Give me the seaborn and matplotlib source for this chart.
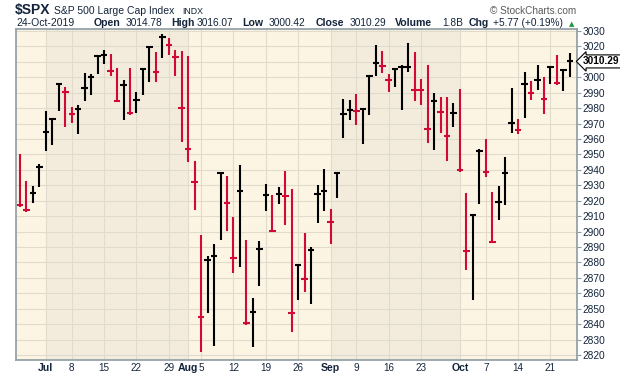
import numpy as np
import pandas as pd
import matplotlib
matplotlib.use("Agg")
import matplotlib.pyplot as plt
import seaborn as sns

# daily S&P 500 bars, 25-Jun-2019 .. 24-Oct-2019
dates = pd.bdate_range("2019-06-25", "2019-10-24")
dates = dates[~dates.isin(pd.to_datetime(["2019-07-04", "2019-09-02"]))]

high = [2950.46, 2932.59, 2929.26, 2943.98,
        2977.93, 2973.21, 2995.84, 2994.03, 2980.76, 2981.90, 3002.98, 3002.33, 3013.92, 3017.80, 3015.02,
        3005.90, 2998.28, 3006.02, 2990.71, 3005.90, 3019.59, 3016.31, 3027.98, 3025.61, 3017.40, 3017.19,
        3013.59, 2945.50, 2898.07, 2884.40, 2892.17, 2938.72, 2935.75, 2909.51, 2943.31, 2894.61, 2856.67,
        2893.63, 2931.00, 2923.63, 2928.73, 2939.08, 2927.73, 2879.27, 2898.79, 2890.03, 2930.50, 2940.43,
        2914.39, 2938.84, 2985.86, 2985.03, 2989.43, 2979.39, 3000.93, 3020.74, 3017.33, 3002.19, 3006.21,
        3007.83, 3021.99, 3016.37, 2999.15, 3007.98, 2989.82, 2987.28, 2987.31, 2983.50,
        2992.53, 2924.72, 2911.13, 2953.78, 2959.75, 2925.47, 2929.32, 2948.46, 2993.28, 2972.84, 3003.28,
        2997.54, 3008.29, 3000.00, 3007.33, 3014.57, 3004.78, 3016.07]
low = [2916.01, 2912.99, 2918.28, 2929.05,
       2952.22, 2955.92, 2977.96, 2967.97, 2970.09, 2963.44, 2984.62, 2988.80, 3001.87, 3008.77, 3001.15,
       2984.42, 2972.60, 2975.86, 2976.65, 2988.56, 2996.82, 2997.24, 3012.59, 3014.30, 3000.94, 2958.08,
       2945.23, 2914.11, 2822.12, 2847.42, 2825.71, 2894.47, 2900.15, 2873.41, 2877.05, 2839.64, 2825.51,
       2864.99, 2913.48, 2899.60, 2917.91, 2904.51, 2834.97, 2856.00, 2860.59, 2853.05, 2905.67, 2913.32,
       2891.85, 2921.86, 2960.40, 2972.51, 2969.39, 2957.01, 2975.31, 3000.92, 3002.90, 2990.67, 2993.73,
       2978.57, 3003.16, 2984.68, 2982.23, 2957.73, 2952.86, 2963.71, 2945.53, 2967.54,
       2938.70, 2874.93, 2855.94, 2918.13, 2935.68, 2892.66, 2907.41, 2917.12, 2963.70, 2962.94, 2973.61,
       2985.20, 2991.79, 2976.31, 2995.35, 2995.04, 2991.21, 3000.42]
close = [2917.38, 2913.78, 2924.92, 2941.76,
         2964.33, 2973.01, 2995.82, 2990.41, 2975.95, 2979.63, 2993.07, 2999.91, 3013.77, 3014.30, 3004.04,
         2984.42, 2995.11, 2976.61, 2985.03, 3005.47, 3019.56, 3003.67, 3025.86, 3020.97, 3013.18, 2980.38,
         2953.56, 2932.05, 2844.74, 2881.77, 2883.98, 2938.09, 2918.65, 2882.70, 2926.32, 2840.60, 2847.60,
         2888.68, 2923.65, 2900.51, 2924.43, 2922.95, 2847.11, 2878.38, 2869.16, 2887.94, 2924.58, 2926.46,
         2906.27, 2937.78, 2976.00, 2978.71, 2978.43, 2979.39, 3000.93, 3009.57, 3007.39, 2997.96, 3005.70,
         3006.73, 3006.79, 2992.07, 2991.78, 2966.60, 2984.87, 2977.62, 2961.79, 2976.74,
         2940.25, 2887.61, 2910.63, 2952.01, 2938.79, 2893.06, 2919.40, 2938.13, 2970.27, 2966.15, 2995.68,
         2989.69, 2997.95, 2986.20, 3006.72, 2995.99, 3004.52, 3010.29]
prev_close = 2945.35  # 24-Jun close, sets colour of first bar

tick_days = ["2019-07-01", "2019-07-08", "2019-07-15", "2019-07-22", "2019-07-29",
             "2019-08-01", "2019-08-05", "2019-08-12", "2019-08-19", "2019-08-26",
             "2019-09-03", "2019-09-09", "2019-09-16", "2019-09-23",
             "2019-10-01", "2019-10-07", "2019-10-14", "2019-10-21"]
tick_labels = ["Jul", "8", "15", "22", "29", "Aug", "5", "12", "19", "26",
               "Sep", "9", "16", "23", "Oct", "7", "14", "21"]
months = ["Jul", "Aug", "Sep", "Oct"]

RED = "#d10a35"
LIGHT_BG = "#fcf5e3"
DARK_BG = "#f3ecdc"
GRID = "#e0dbcc"
FRAME = "#8e9ca2"
TXT = "#13243a"

sns.set_style("white")
plt.rcParams["font.family"] = ["Liberation Sans", "DejaVu Sans"]

df = pd.DataFrame({"date": dates, "high": high, "low": low, "close": close})
df["x"] = np.arange(len(df))
df["dir"] = np.where(df["close"] < df["close"].shift(1).fillna(prev_close), "down", "up")

fig = plt.figure(figsize=(6.2, 3.76), dpi=100)
W, H = 620, 376
ax = fig.add_axes([16 / W, 1 - 360 / H, (577 - 16) / W, (360 - 29) / H])
ax.set_facecolor(LIGHT_BG)

# month shading (Jul, Sep darker)
ticks = dates.get_indexer(pd.to_datetime(tick_days))
mstart = dict(zip(months, ticks[[0, 5, 10, 14]]))
ax.axvspan(mstart["Jul"], mstart["Aug"], color=DARK_BG, lw=0, zorder=0)
ax.axvspan(mstart["Sep"], mstart["Oct"], color=DARK_BG, lw=0, zorder=0)

# grid
yt = np.arange(2820, 3031, 10)
for y in yt:
    ax.axhline(y, color=GRID, lw=0.8, zorder=0.5)
for t in ticks:
    ax.axvline(t, color=GRID, lw=0.8, zorder=0.5)

# HL bars + close ticks
cols = np.where(df["dir"] == "down", RED, "black")
ax.vlines(df["x"], df["low"], df["high"], colors=cols, lw=1.5, zorder=3)
sns.scatterplot(data=df, x="x", y="close", hue="dir", palette={"up": "black", "down": RED},
                marker="_", s=22, linewidth=1.5, legend=False, ax=ax, zorder=4)

ax.set_xlim(-0.62, 86.1)
ax.set_ylim(2816.8, 3031.3)
ax.set_xlabel("")
ax.set_ylabel("")

for s in ax.spines.values():
    s.set_visible(True)
    s.set_color(FRAME)
    s.set_linewidth(1.2)

# the 3010 label sits under the last-price flag, as on the reference
ax.yaxis.tick_right()
ax.set_yticks(yt)
ax.set_yticklabels(["" if v == 3010 else str(v) for v in yt])
ax.tick_params(axis="y", length=3, width=0.8, color=FRAME, pad=1, labelsize=7.3, labelcolor=TXT)

ax.set_xticks(ticks)
ax.set_xticklabels(tick_labels)
ax.set_xticks(df["x"], minor=True)
ax.tick_params(axis="x", which="major", length=0, pad=2.5, labelsize=7.1, labelcolor=TXT)
ax.tick_params(axis="x", which="minor", length=1.5, width=0.6, color=FRAME)
for lab in ax.get_xticklabels():
    if lab.get_text() in months:
        lab.set_fontweight("bold")
        lab.set_fontsize(7.6)

# last price flag
ax.annotate(f"{close[-1]:.2f}", xy=(1, close[-1]), xycoords=("axes fraction", "data"),
            xytext=(4.5, 0), textcoords="offset points", ha="left", va="center",
            fontsize=7.3, fontweight="bold", color="black", zorder=10,
            bbox=dict(boxstyle="larrow,pad=0.15", fc="white", ec="black", lw=0.8))

# header
def put(x, y, s, **kw):
    fig.text(x / W, 1 - y / H, s, va="baseline", color=TXT, **kw)

put(15, 14, "$SPX", fontsize=10, fontweight="bold")
put(54, 14, "S&P 500 Large Cap Index", fontsize=7.5)
put(182, 14, "INDX", fontsize=6.3)
fig.text(576 / W, 1 - 14 / H, "\u00a9 StockCharts.com", ha="right", va="baseline",
         fontsize=7.2, color="#5a5a5a")

put(16, 26, "24-Oct-2019", fontsize=7.5)
line2 = [(94, "Open", True), (126, "3014.78", False), (171, "High", True), (197, "3016.07", False),
         (242, "Low", True), (269, "3000.42", False), (316, "Close", True), (350, "3010.29", False),
         (395, "Volume", True), (442, "1.8B", False), (469, "Chg", True), (493, "+5.77 (+0.19%)", False)]
for x, s, b in line2:
    put(x, 26, s, fontsize=7.6 if b else 7.3, fontweight="bold" if b else "normal")
fig.text(569 / W, 1 - 26 / H, "\u25b2", va="baseline", fontsize=5, color="#1a9a3a",
         family=["DejaVu Sans"])

fig.savefig("out.png", dpi=100)
